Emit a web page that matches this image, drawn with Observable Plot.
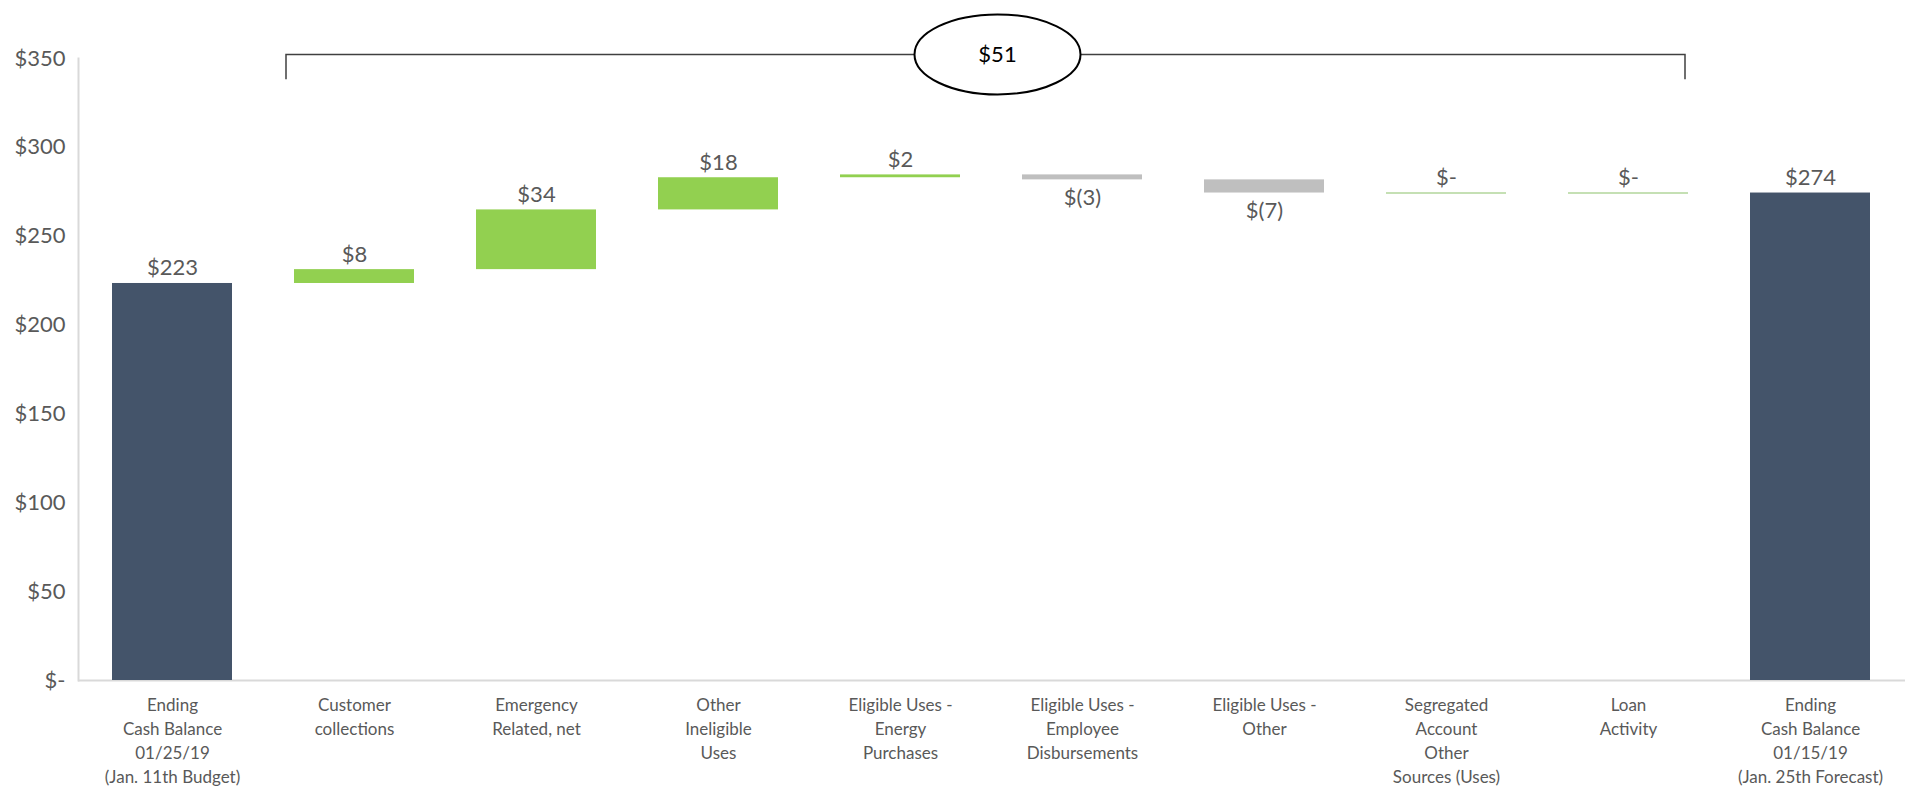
<!DOCTYPE html>
<html><head><meta charset="utf-8">
<script src="https://cdn.jsdelivr.net/npm/d3@7"></script>
<script src="https://cdn.jsdelivr.net/npm/@observablehq/plot@0.6"></script>
<style>
html,body{margin:0;padding:0;background:#fff;overflow:hidden}
#chart svg{display:block}
</style></head><body><div id="chart"></div>
<script>
// ---- data ----
const categories = [
  "Ending\nCash Balance\n01/25/19\n(Jan. 11th Budget)",
  "Customer\ncollections",
  "Emergency\nRelated, net",
  "Other\nIneligible\nUses",
  "Eligible Uses -\nEnergy\nPurchases",
  "Eligible Uses -\nEmployee\nDisbursements",
  "Eligible Uses -\nOther",
  "Segregated\nAccount\nOther\nSources (Uses)",
  "Loan\nActivity",
  "Ending\nCash Balance\n01/15/19\n(Jan. 25th Forecast)"
];
const kinds  = ["total","delta","delta","delta","delta","delta","delta","delta","delta","total"];
const values = [223.4, 7.8, 33.6, 18.1, 1.6, -2.8, -7.4, 0, 0, 274.3];
const yTicks = [0, 50, 100, 150, 200, 250, 300, 350];
const bracketLabel = "$51";
const bracketFrom = categories[1];
const bracketTo = categories[8];

// ---- waterfall rows ----
let run = 0;
const rows = categories.map((cat, i) => {
  const v = values[i];
  let start, end;
  if (kinds[i] === "total") { start = 0; end = v; run = v; }
  else { start = run; end = run + v; run = end; }
  const color = kinds[i] === "total" ? "#44546a" : v > 0 ? "#92d050" : v < 0 ? "#bfbfbf" : "#c5e0b4";
  return {cat, kind: kinds[i], value: v, start, end, color};
});
const fmtVal = v => { const r = Math.round(v); return r === 0 ? "$-" : r < 0 ? `$(${-r})` : `$${r}`; };
const fmtTick = d => d === 0 ? "$-" : `$${d}`;

const FONT = "Lato, 'Open Sans', sans-serif";
const GREY = "#595959";

const chart = Plot.plot({
  width: 1913,
  height: 791,
  marginLeft: 78,
  marginRight: 8,
  marginTop: 58,
  marginBottom: 111,
  style: {fontFamily: FONT, color: GREY, background: "#fff"},
  x: {domain: categories, paddingInner: 0.34, paddingOuter: 0.17, label: null},
  y: {domain: [0, 350], label: null},
  color: {type: "identity"},
  marks: [
    Plot.frame({anchor: "left", stroke: "#d9d9d9", strokeWidth: 2}),
    Plot.axisY({ticks: yTicks, tickFormat: fmtTick, tickSize: 0, tickPadding: 13, fontSize: 22, fill: GREY, label: null}),
    Plot.axisX({tickSize: 0, tickPadding: 13, fontSize: 17, lineHeight: 1.42, fill: GREY, label: null, textOverflow: null}),
    Plot.ruleY([0], {stroke: "#d9d9d9", strokeWidth: 2}),
    Plot.barY(rows.filter(d => d.value !== 0), {x: "cat", y1: "start", y2: "end", fill: "color"}),
    Plot.tickY(rows.filter(d => d.value === 0), {x: "cat", y: "end", stroke: "color", strokeWidth: 2}),
    Plot.text(rows.filter(d => d.value >= 0), {
      x: "cat", y: d => Math.max(d.start, d.end), text: d => fmtVal(d.value),
      lineAnchor: "bottom", dy: -8, fontSize: 22, fill: GREY
    }),
    Plot.text(rows.filter(d => d.value < 0), {
      x: "cat", y: d => Math.min(d.start, d.end), text: d => fmtVal(d.value),
      lineAnchor: "top", dy: 9, fontSize: 22, fill: GREY
    })
  ]
});
document.getElementById("chart").append(chart);

// ---- bracket annotation using the chart's own scales ----
const xs = chart.scale("x"), ys = chart.scale("y");
const L = xs.apply(bracketFrom) - 8;
const R = xs.apply(bracketTo) + xs.bandwidth - 3;
const yLine = ys.apply(352), yTip = ys.apply(338);
const svg = d3.select(chart);
const g = svg.append("g");
g.append("path")
  .attr("d", `M${L},${yTip} V${yLine} H${R} V${yTip}`)
  .attr("fill", "none").attr("stroke", "#404040").attr("stroke-width", 1.5);
const cx = (L + R) / 2 + 12;
g.append("ellipse").attr("cx", cx).attr("cy", yLine).attr("rx", 83).attr("ry", 40)
  .attr("fill", "#fff").attr("stroke", "#000").attr("stroke-width", 2);
g.append("text").attr("x", cx).attr("y", yLine).attr("dy", "0.35em")
  .attr("text-anchor", "middle").attr("font-family", FONT).attr("font-size", 22)
  .attr("fill", "#000").text(bracketLabel);
</script>
</body></html>
